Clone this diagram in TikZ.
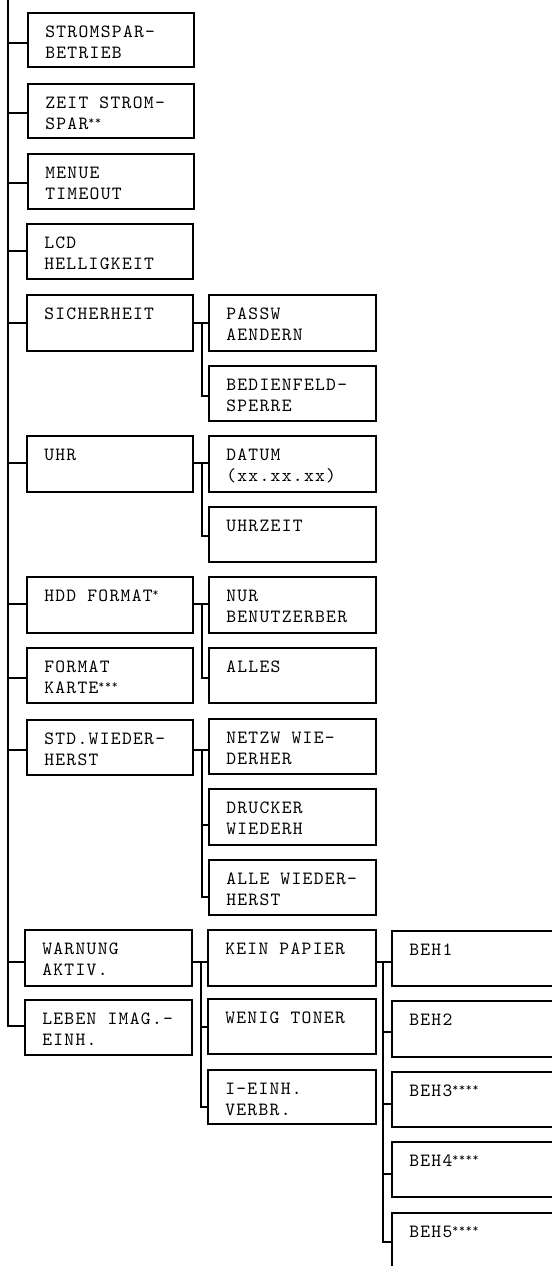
\documentclass[tikz,border=0pt]{standalone}
\usepackage{fontspec}
\newfontfamily\boxfont{lmmono10-regular.otf}[LetterSpace=7]
\usetikzlibrary{calc}
\tikzset{
  box/.style={draw, line width=1.6pt, rectangle, inner sep=0pt, outer sep=0pt, anchor=north west},
  conn/.style={line width=1.6pt},
  lbl/.style={anchor=base west, inner sep=0pt, text=black, font=\boxfont\fontsize{14}{15.5}\selectfont},
}
\newcommand\mkbox[7]{%
  \node[box, minimum width=#4*0.75pt, minimum height=#5*0.75pt] (#1) at (#2,#3) {};
  \node[lbl] (#1t) at ($(#1.north west)+(17,24.7)$) {\begin{tabular}[t]{@{}l@{}}#7\end{tabular}};
  \coordinate (#1b) at ($(#1.north west)+(0,#6)$);
}
\newcommand\stars[1]{\raisebox{3.6pt}{\fontsize{8.5}{8.5}\selectfont #1}}
\begin{document}
\begin{tikzpicture}[x=0.75pt,y=-0.75pt]
\clip (0,0) rectangle (552,1266);
% left column
\mkbox{strom}{28}{13}{166}{54}{30}{STROMSPAR-\\BETRIEB}
\mkbox{zeit}{28}{84}{166}{54}{29}{ZEIT STROM-\\SPAR\stars{**}}
\mkbox{menue}{28}{154}{166}{55}{29}{MENUE\\TIMEOUT}
\mkbox{lcd}{27}{224}{166}{55}{27}{LCD\\HELLIGKEIT}
\mkbox{sich}{27}{295}{166}{56}{28}{SICHERHEIT}
\mkbox{uhr}{27}{436}{166}{56}{27}{UHR}
\mkbox{hdd}{27}{577}{166}{56}{27}{HDD FORMAT\stars{*}}
\mkbox{fkarte}{27}{648}{166}{55}{30}{FORMAT\\KARTE\stars{***}}
\mkbox{std}{27}{720}{166}{55}{30}{STD.WIEDER-\\HERST}
\mkbox{warn}{25}{930}{167}{56}{32}{WARNUNG\\AKTIV.}
\mkbox{leben}{25}{1000}{167}{55}{26}{LEBEN IMAG.-\\EINH.}
% second column
\mkbox{passw}{209}{295}{167}{56}{28}{PASSW\\AENDERN}
\mkbox{bedien}{209}{366}{167}{55}{30}{BEDIENFELD-\\SPERRE}
\mkbox{datum}{209}{436}{167}{56}{27}{DATUM\\(xx.xx.xx)}
\mkbox{uhrzeit}{209}{507}{167}{55}{29}{UHRZEIT}
\mkbox{nur}{209}{577}{167}{56}{27}{NUR\\BENUTZERBER}
\mkbox{alles}{209}{648}{167}{55}{30}{ALLES}
\mkbox{netzw}{209}{719}{167}{55}{31}{NETZW WIE-\\DERHER}
\mkbox{drucker}{209}{789}{167}{56}{36}{DRUCKER\\WIEDERH}
\mkbox{alle}{209}{860}{167}{55}{37}{ALLE WIEDER-\\HERST}
\mkbox{kein}{208}{930}{168}{56}{32}{KEIN PAPIER}
\mkbox{wenig}{208}{999}{168}{55}{28}{WENIG TONER}
\mkbox{ieinh}{208}{1070}{168}{54}{37}{I-EINH.\\VERBR.}
% third column
\mkbox{beh1}{392}{931}{200}{55}{30}{BEH1}
\mkbox{beh2}{392}{1001}{200}{56}{31}{BEH2}
\mkbox{beh3}{392}{1072}{200}{55}{32}{BEH3\stars{****}}
\mkbox{beh4}{392}{1142}{200}{55}{32}{BEH4\stars{****}}
\mkbox{beh5}{392}{1213}{200}{80}{29}{BEH5\stars{****}}
% trunk
\coordinate (trunk) at (8,0);
\draw[conn] (trunk) |- (lebenb);
\foreach \n in {strom,zeit,menue,lcd,sich,uhr,hdd,fkarte,std,warn}
  \draw[conn] (trunk |- \n b) -- (\n b);
% sub-trees
\draw[conn] (sich.east |- sichb) -- (passw.west |- sichb);
\coordinate (s1) at ($(sich.east |- sichb)+(9,0)$);
\draw[conn] (s1) |- (bedienb);
\draw[conn] (uhr.east |- uhrb) -- (datum.west |- uhrb);
\coordinate (s2) at ($(uhr.east |- uhrb)+(9,0)$);
\draw[conn] (s2) |- (uhrzeitb);
\draw[conn] (hdd.east |- hddb) -- (nur.west |- hddb);
\coordinate (s3) at ($(hdd.east |- hddb)+(9,0)$);
\draw[conn] (s3) |- (allesb);
\draw[conn] (std.east |- stdb) -- (netzw.west |- stdb);
\coordinate (s4) at ($(std.east |- stdb)+(9,0)$);
\draw[conn] (s4) |- (alleb);
\draw[conn] (s4 |- druckerb) -- (druckerb);
\draw[conn] (warn.east |- warnb) -- (kein.west |- warnb);
\coordinate (s5) at ($(warn.east |- warnb)+(9,0)$);
\draw[conn] (s5) |- (ieinhb);
\draw[conn] (s5 |- wenigb) -- (wenigb);
\draw[conn] (kein.east |- keinb) -- (beh1.west |- keinb);
\coordinate (s6) at ($(kein.east |- keinb)+(7,0)$);
\draw[conn] (s6) |- (beh5b);
\foreach \n in {beh2,beh3,beh4}
  \draw[conn] (s6 |- \n b) -- (\n b);
\end{tikzpicture}
\end{document}
